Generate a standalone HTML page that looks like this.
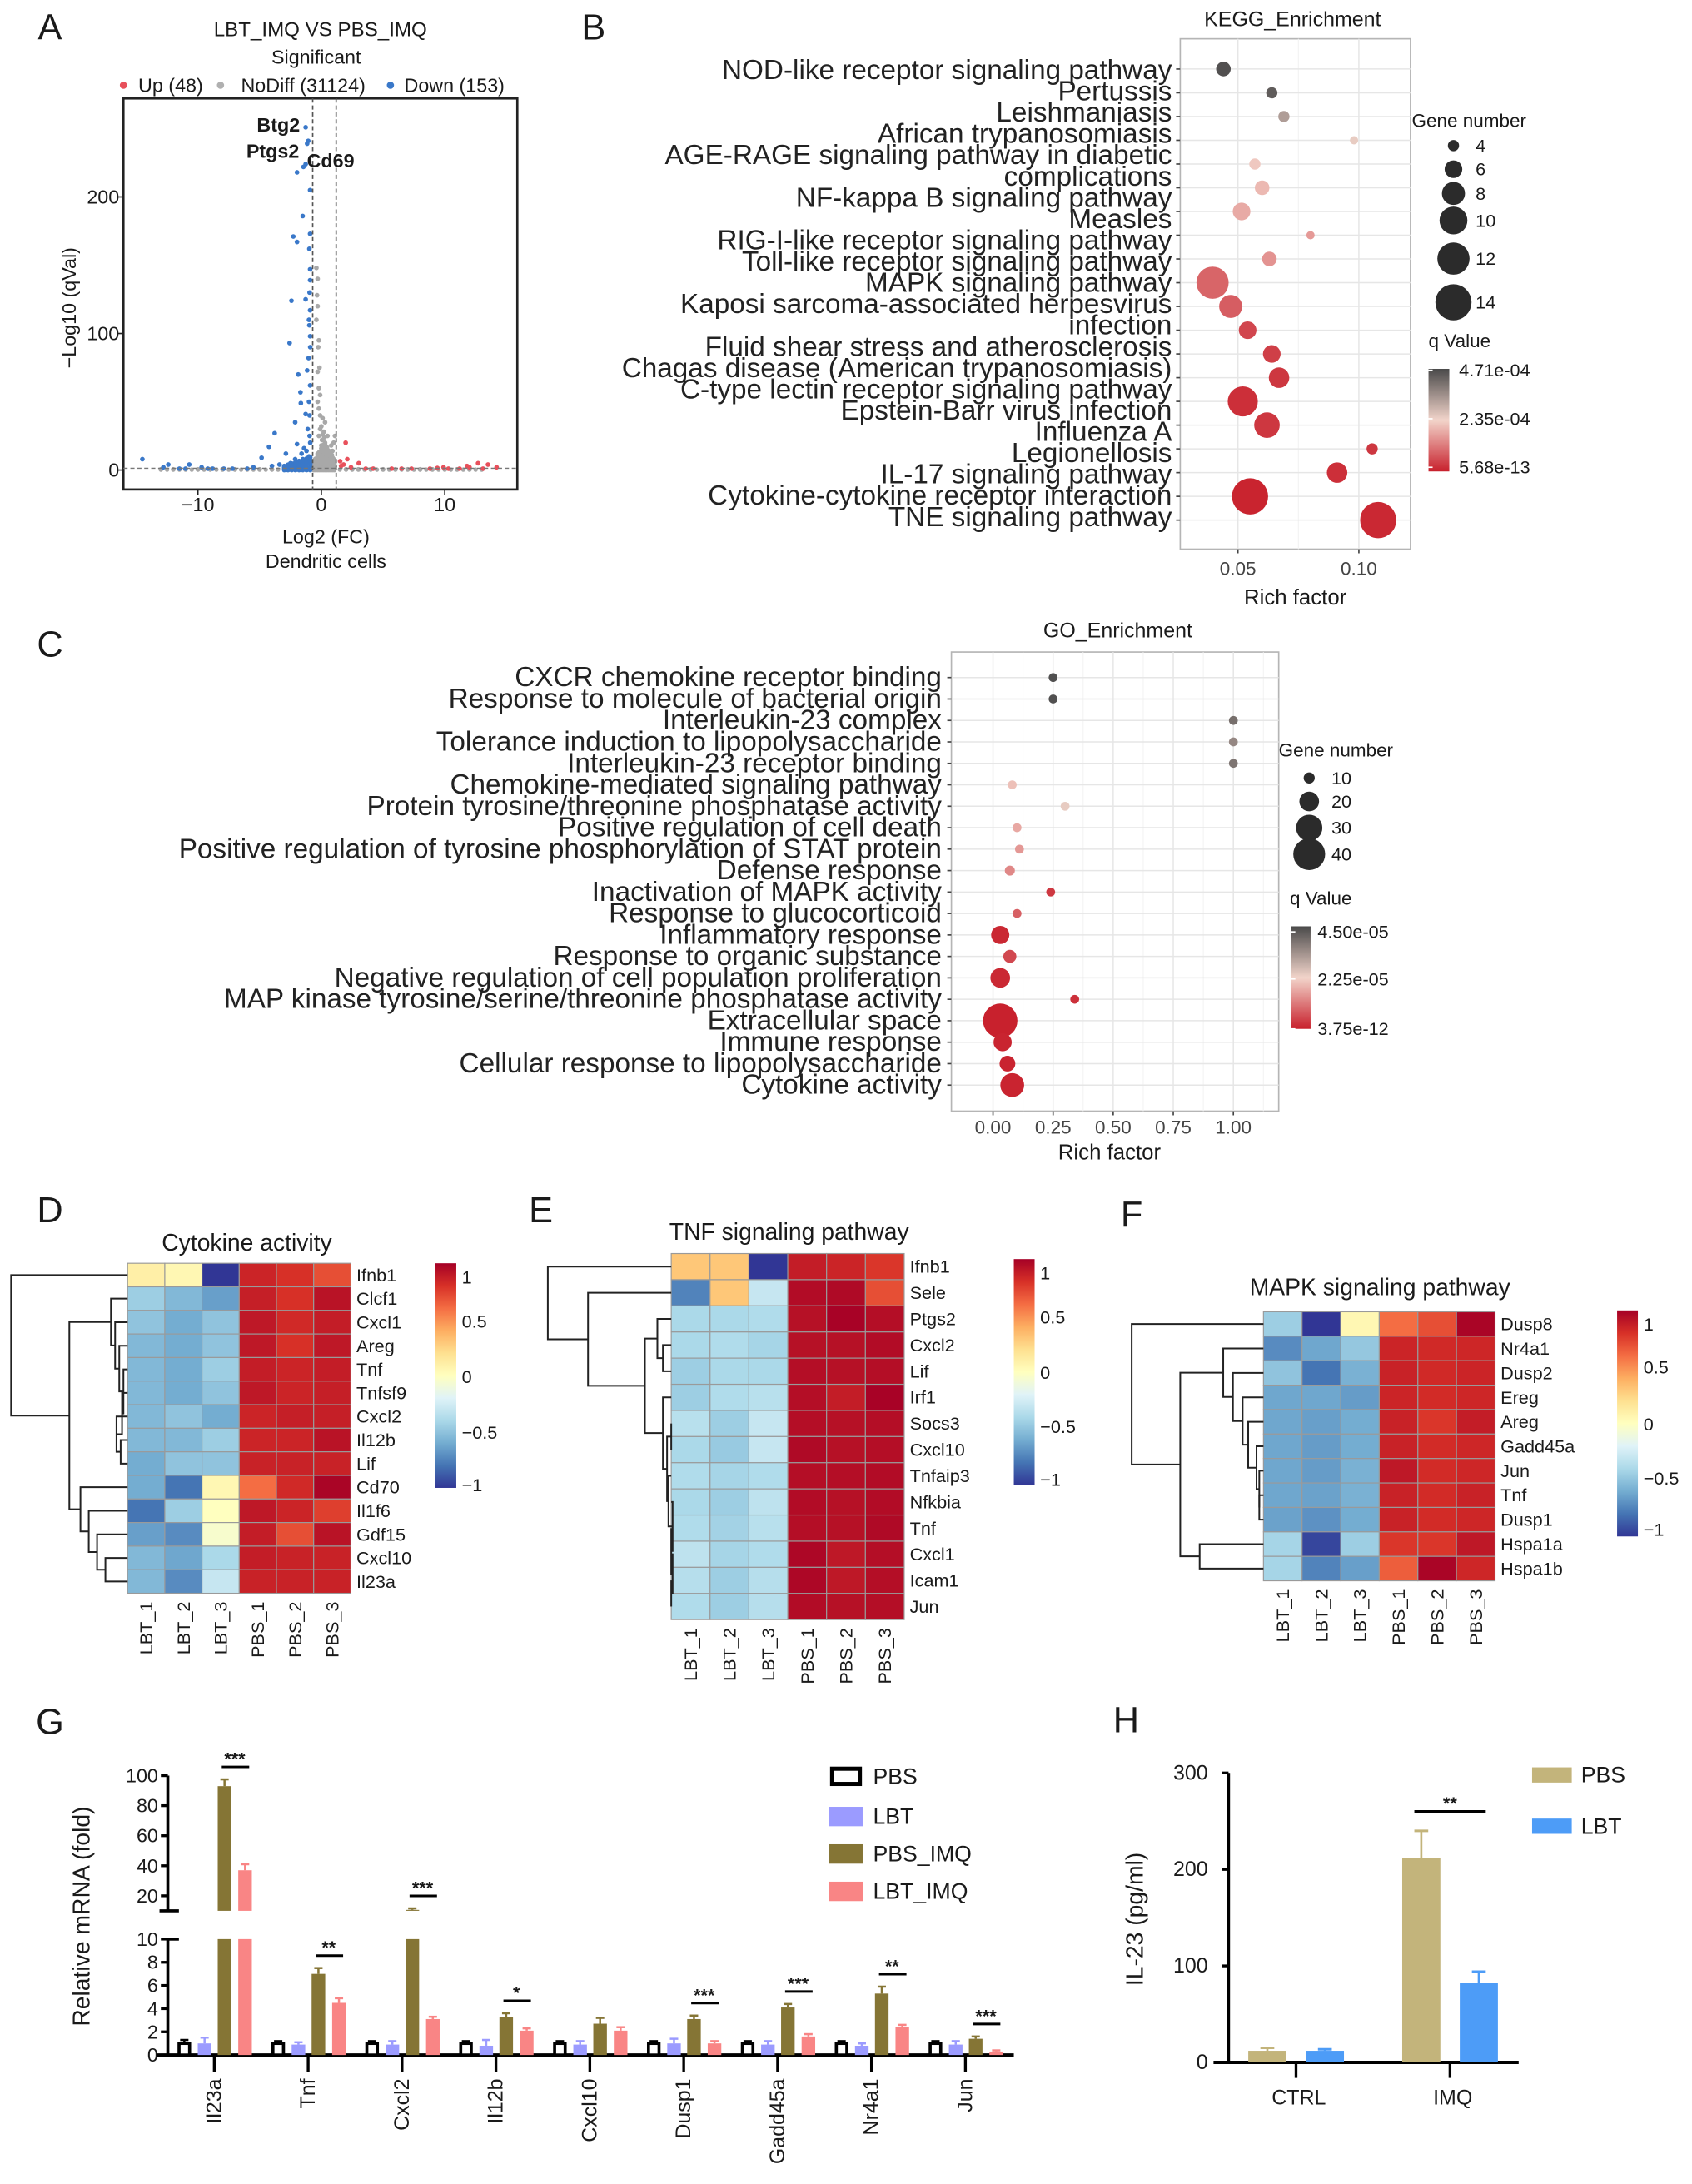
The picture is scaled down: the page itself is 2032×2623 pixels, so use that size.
<!DOCTYPE html>
<html><head><meta charset="utf-8">
<style>
html,body{margin:0;padding:0;background:#fff;}
svg{display:block;font-family:"Liberation Sans",Arial,sans-serif;}
</style></head>
<body>
<svg id="fig" width="2032" height="2623" viewBox="0 0 1220 1575" preserveAspectRatio="none" xmlns="http://www.w3.org/2000/svg">
<defs>
<linearGradient id="qgrad" x1="0" y1="1" x2="0" y2="0"><stop offset="0" stop-color="#c8202c"/><stop offset="0.5" stop-color="#f2d4ca"/><stop offset="1" stop-color="#4a4a4a"/></linearGradient>
<linearGradient id="hmgrad" x1="0" y1="1" x2="0" y2="0">
<stop offset="0" stop-color="#313695"/><stop offset="0.1" stop-color="#4575b4"/><stop offset="0.2" stop-color="#74add1"/><stop offset="0.3" stop-color="#abd9e9"/><stop offset="0.4" stop-color="#e0f3f8"/><stop offset="0.5" stop-color="#ffffbf"/><stop offset="0.6" stop-color="#fee090"/><stop offset="0.7" stop-color="#fdae61"/><stop offset="0.8" stop-color="#f46d43"/><stop offset="0.9" stop-color="#d73027"/><stop offset="1" stop-color="#a50026"/></linearGradient>
</defs>
</svg>
<script>
// ---------- Panel A data (log2FC, -log10 q) ----------
const downX=[-1.27,-1.15,-1.06,-1.27,-1.45,-1.97,-0.91,-1.51,-0.91,-2.27,-1.97,-0.97,-0.91,-0.91,-2.42,-1.27,-0.91,-0.97,-2.57,-0.91,-1.03,-1.15,-1.87,-0.91,-1.69,-1.66,-1.27,-2.12,-3.78,-4.24,-2.87,-1.97,-4.84,-2.12,-3.39,-14.5,-12.4,-10.7,-9.7,-7.9,-11.5,-1.0,-1.2,-0.9,-1.5,-1.8,-2.5,-1.1,-0.95,-1.3,-6,-8.8,-11,-3,-4,-1.6,-0.9,-0.95,-1.0,-5.5,-1.1,-0.95,-1.4,-1.2,-2.0,-1.0,-9.2,-12.8,-7.2];
const downY=[251,239,241,224,222,218,205,186,173,171,167,162,147,139,124,125,117,106,93,98,82,73,70,62,57,49,41,35,27,17,12,19,9,8,4,8,4,4,2,1,1,10,14,20,8,6,5,30,40,3,1,1,1,2,3,12,90,130,110,2,5,25,16,6,3,50,1,2,1];
const upX=[1.97,3.03,1.52,4.2,12.7,13.5,14.2,12,9.4,1.8,2.4,7.3,10.3,11.2,3.6,5.7,8.8,1.6,2.1,11.8,9.9,6.5,13.1];
const upY=[20,5,6.5,1,5,4,2,2,1.5,4,2,1,1,1,1,1,1,3,8,3,2,1,1];
const grayX=[-0.4,-0.3,-0.35,-0.3,-0.4,-0.2,-0.25,-0.15,-0.3,-0.2,-0.1,-0.3,-0.2,-0.1,0.1,0.3,0,0.2,0.5,-0.2,1.1,1.0,0.8,0.3,0.1,0.6,0.9,0.4,0.2,0.7,1.0,-0.3,-0.5,0,0.5,1.1,-0.4,0.05,0.15,0.35,0.25,0.45,0.65,0.85,-0.1,0.0,0.1,0.3,0.55,0.75,0.95,-0.45,-13,-12,-11,-10,-9,-8,-7,-6,-5,-4,-3,-2.5,-2,-1.5,2,2.5,3,4,5,6,7,8,9,10,11,12,13];
const grayY=[148,140,128,120,110,95,90,75,72,60,55,50,45,40,38,35,32,28,25,25,25,20,18,20,15,12,14,10,8,6,8,12,8,5,4,3,3,22,18,14,24,16,9,11,30,18,26,12,7,4,6,2,0.5,0.5,0.5,0.5,0.5,0.5,0.5,0.5,0.5,0.5,0.5,0.5,0.5,0.5,0.5,0.5,0.5,0.5,0.5,0.5,0.5,0.5,0.5,0.5,0.5,0.5,0.5];
const aXTicks=[-10,0,10];
const aYTicks=[0,100,200];

// ---------- Panel B data (KEGG) ----------
const keggTerms=["NOD-like receptor signaling pathway","Pertussis","Leishmaniasis","African trypanosomiasis","AGE-RAGE signaling pathway in diabetic complications","NF-kappa B signaling pathway","Measles","RIG-I-like receptor signaling pathway","Toll-like receptor signaling pathway","MAPK signaling pathway","Kaposi sarcoma-associated herpesvirus infection","Fluid shear stress and atherosclerosis","Chagas disease (American trypanosomiasis)","C-type lectin receptor signaling pathway","Epstein-Barr virus infection","Influenza A","Legionellosis","IL-17 signaling pathway","Cytokine-cytokine receptor interaction","TNE signaling pathway"];
const keggLabelLines=["NOD-like receptor signaling pathway","Pertussis","Leishmaniasis","African trypanosomiasis","AGE-RAGE signaling pathway in diabetic","complications","NF-kappa B signaling pathway","Measles","RIG-I-like receptor signaling pathway","Toll-like receptor signaling pathway","MAPK signaling pathway","Kaposi sarcoma-associated herpesvirus","infection","Fluid shear stress and atherosclerosis","Chagas disease (American trypanosomiasis)","C-type lectin receptor signaling pathway","Epstein-Barr virus infection","Influenza A","Legionellosis","IL-17 signaling pathway","Cytokine-cytokine receptor interaction","TNE signaling pathway"];
const keggRich=[0.044,0.064,0.069,0.098,0.057,0.060,0.0515,0.080,0.063,0.0395,0.047,0.054,0.064,0.067,0.052,0.062,0.1055,0.091,0.055,0.108];
const keggGenes=[5,4,4,3,4,5,6,3,5,12,8,6,6,7,11,9,4,7,14,14];
const keggQ=[4.6e-4,4.4e-4,3.3e-4,2.5e-4,2.2e-4,2.0e-4,1.8e-4,1.6e-4,1.5e-4,0.9e-4,0.8e-4,0.5e-4,0.4e-4,0.3e-4,0.2e-4,0.3e-4,0.3e-4,0.2e-4,0.05e-4,0.1e-4];
const keggXTicks=[0.05,0.10];
const keggSizeLegend=[4,6,8,10,12,14];
const keggQLegend=["4.71e-04","2.35e-04","5.68e-13"];

// ---------- Panel C data (GO) ----------
const goTerms=["CXCR chemokine receptor binding","Response to molecule of bacterial origin","Interleukin-23 complex","Tolerance induction to lipopolysaccharide","Interleukin-23 receptor binding","Chemokine-mediated signaling pathway","Protein tyrosine/threonine phosphatase activity","Positive regulation of cell death","Positive regulation of tyrosine phosphorylation of STAT protein","Defense response","Inactivation of MAPK activity","Response to glucocorticoid","Inflammatory response","Response to organic substance","Negative regulation of cell population proliferation","MAP kinase tyrosine/serine/threonine phosphatase activity","Extracellular space","Immune response","Cellular response to lipopolysaccharide","Cytokine activity"];
const goRich=[0.25,0.25,1.0,1.0,1.0,0.08,0.30,0.10,0.11,0.07,0.24,0.10,0.03,0.07,0.03,0.34,0.03,0.04,0.06,0.08];
const goGenes=[5,5,4,4,4,8,6,8,8,9,6,8,18,12,20,5,45,18,15,26];
const goQ=[4.4e-5,4.4e-5,3.9e-5,3.5e-5,3.8e-5,2.0e-5,2.4e-5,1.7e-5,1.5e-5,1.3e-5,0.3e-5,0.8e-5,0.1e-5,0.5e-5,0.1e-5,0.2e-5,0.01e-5,0.05e-5,0.05e-5,0.05e-5];
const goXTicks=[0,0.25,0.5,0.75,1.0];
const goXTickLabels=["0.00","0.25","0.50","0.75","1.00"];
const goSizeLegend=[10,20,30,40];
const goQLegend=["4.50e-05","2.25e-05","3.75e-12"];

// ---------- Heatmaps ----------
const hmCols=["LBT_1","LBT_2","LBT_3","PBS_1","PBS_2","PBS_3"];
const dGenes=["Ifnb1","Clcf1","Cxcl1","Areg","Tnf","Tnfsf9","Cxcl2","Il12b","Lif","Cd70","Il1f6","Gdf15","Cxcl10","Il23a"];
const dVals=[[0.1,0.05,-1,0.85,0.8,0.7],[-0.45,-0.55,-0.65,0.87,0.8,0.92],[-0.5,-0.6,-0.5,0.9,0.83,0.88],[-0.55,-0.6,-0.5,0.9,0.8,0.9],[-0.55,-0.6,-0.45,0.88,0.85,0.88],[-0.55,-0.6,-0.5,0.9,0.85,0.87],[-0.55,-0.5,-0.6,0.85,0.87,0.87],[-0.55,-0.55,-0.45,0.85,0.85,0.92],[-0.6,-0.5,-0.5,0.86,0.86,0.86],[-0.6,-0.8,0.05,0.6,0.83,0.98],[-0.8,-0.45,0.0,0.9,0.85,0.75],[-0.65,-0.72,-0.05,0.88,0.7,0.92],[-0.55,-0.62,-0.4,0.88,0.86,0.86],[-0.55,-0.72,-0.3,0.86,0.86,0.86]];
const eGenes=["Ifnb1","Sele","Ptgs2","Cxcl2","Lif","Irf1","Socs3","Cxcl10","Tnfaip3","Nfkbia","Tnf","Cxcl1","Icam1","Jun"];
const eVals=[[0.3,0.3,-1,0.88,0.85,0.78],[-0.75,0.3,-0.3,0.95,0.96,0.7],[-0.4,-0.4,-0.38,0.93,0.99,0.94],[-0.4,-0.38,-0.42,0.93,0.93,0.95],[-0.45,-0.4,-0.4,0.94,0.93,0.94],[-0.45,-0.38,-0.35,0.94,0.88,0.99],[-0.35,-0.45,-0.3,0.94,0.93,0.94],[-0.4,-0.47,-0.3,0.96,0.93,0.94],[-0.38,-0.42,-0.38,0.94,0.94,0.95],[-0.4,-0.45,-0.33,0.95,0.93,0.95],[-0.38,-0.43,-0.35,0.94,0.93,0.96],[-0.33,-0.42,-0.38,0.97,0.9,0.94],[-0.36,-0.45,-0.36,0.97,0.9,0.94],[-0.38,-0.45,-0.36,0.95,0.93,0.94]];
const fGenes=["Dusp8","Nr4a1","Dusp2","Ereg","Areg","Gadd45a","Jun","Tnf","Dusp1","Hspa1a","Hspa1b"];
const fVals=[[-0.45,-1,0.05,0.6,0.7,0.98],[-0.72,-0.62,-0.48,0.85,0.83,0.84],[-0.5,-0.8,-0.58,0.86,0.83,0.85],[-0.62,-0.62,-0.66,0.85,0.82,0.84],[-0.62,-0.65,-0.6,0.86,0.78,0.88],[-0.62,-0.66,-0.6,0.86,0.82,0.84],[-0.62,-0.66,-0.58,0.9,0.82,0.84],[-0.62,-0.64,-0.58,0.86,0.82,0.86],[-0.64,-0.7,-0.6,0.86,0.82,0.84],[-0.42,-0.95,-0.45,0.78,0.78,0.9],[-0.42,-0.75,-0.65,0.65,0.98,0.84]];

// ---------- Panel G data ----------
const gGenes=["Il23a","Tnf","Cxcl2","Il12b","Cxcl10","Dusp1","Gadd45a","Nr4a1","Jun"];
const gSeries=["PBS","LBT","PBS_IMQ","LBT_IMQ"];
const gPBS=[1,1,1,1,1,1,1,1,1];
const gLBT=[1,0.9,0.9,0.8,0.9,1.0,0.9,0.8,0.9];
const gPBSIMQ=[93,7,10.6,3.3,2.7,3.1,4.1,5.3,1.4];
const gLBTIMQ=[37,4.5,3.1,2.1,2.1,1.0,1.6,2.4,0.3];
const gErrPBS=[0.3,0.2,0.2,0.2,0.2,0.2,0.2,0.2,0.2];
const gErrLBT=[0.5,0.2,0.3,0.5,0.3,0.4,0.3,0.2,0.3];
const gErrPBSIMQ=[4.5,0.5,1.0,0.3,0.5,0.3,0.3,0.6,0.2];
const gErrLBTIMQ=[4,0.4,0.2,0.2,0.3,0.2,0.2,0.2,0.1];
const gSig=["***","**","***","*","","***","***","**","***"];
const gLowTicks=[0,2,4,6,8,10];
const gUpTicks=[20,40,60,80,100];

// ---------- Panel H data ----------
const hGroups=["CTRL","IMQ"];
const hPBS=[12,212];
const hLBT=[12,82];
const hErrPBS=[3,28];
const hErrLBT=[1.5,12];
const hSig=["","**"];
const hTicks=[0,100,200,300];

// ================= helpers =================
const NS="http://www.w3.org/2000/svg";
const svg=document.getElementById('fig');
function mk(tag,a,p){const e=document.createElementNS(NS,tag);for(const k in a)e.setAttribute(k,a[k]);(p||svg).appendChild(e);return e;}
function tx(s,x,y,size,anchor,p,extra){const e=mk('text',Object.assign({x:x,y:y,'font-size':size,'text-anchor':anchor||'start','dominant-baseline':'central',fill:'#1a1a1a'},extra||{}),p);e.textContent=s;return e;}
function grp(name,p){const g=mk('g',{},p);return g;}
function hex2rgb(h){return [parseInt(h.substr(1,2),16),parseInt(h.substr(3,2),16),parseInt(h.substr(5,2),16)];}
function interp(stops,t){t=Math.max(0,Math.min(1,t));for(let i=0;i<stops.length-1;i++){const a=stops[i],b=stops[i+1];if(t<=b[0]){const u=(t-a[0])/(b[0]-a[0]);const c1=hex2rgb(a[1]),c2=hex2rgb(b[1]);return 'rgb('+c1.map((c,j)=>Math.round(c+(c2[j]-c)*u)).join(',')+')';}}return stops[stops.length-1][1];}
const qStops=[[0,'#c8202c'],[0.5,'#f2d4ca'],[1,'#4a4a4a']];
const hmStops=[[0,'#313695'],[0.1,'#4575b4'],[0.2,'#74add1'],[0.3,'#abd9e9'],[0.4,'#e0f3f8'],[0.5,'#ffffbf'],[0.6,'#fee090'],[0.7,'#fdae61'],[0.8,'#f46d43'],[0.9,'#d73027'],[1,'#a50026']];
function panelLetter(s,x,y){const t=tx(s,x,y,26,'middle');}

// ================= Panel A =================
(function(){
const g=grp('volcano-plot');
panelLetter('A',36,20);
const X0=89,X1=373,Y0=71,Y1=353;
const xs=v=>231.7+v*8.9, ys=v=>339-v*0.985;
let t=tx('LBT_IMQ VS PBS_IMQ',231,21.5,14.5,'middle',g);
t=tx('Significant',228,41,14,'middle',g);
const leg=[['#e8505b','Up (48)',89,99.7],['#b0b0b0','NoDiff (31124)',159,173.8],['#3a78c9','Down (153)',281.5,291.5]];
leg.forEach(l=>{const c=mk('circle',{cx:l[2],cy:61.5,r:2.6,fill:l[0]},g);
const tt=tx(l[1],l[3],61.5,14,'start',g);});
const fr=mk('rect',{x:X0,y:Y0,width:X1-X0,height:Y1-Y0,fill:'#fff',stroke:'#222','stroke-width':1.6},g);
const pts=grp('points',g);
for(let i=0;i<grayX.length;i++){const c=mk('circle',{cx:xs(grayX[i]),cy:ys(grayY[i]),r:1.7,fill:'#a8a8a8'},pts);}
for(let v=-13;v<=13.01;v+=0.5){const c=mk('circle',{cx:xs(v),cy:ys(0.3),r:1.6,fill:'#a8a8a8'},pts);}
for(let v=-0.6;v<=1.1;v+=0.15){for(let w=0;w<=20;w+=2.5){const c=mk('circle',{cx:xs(v),cy:ys(w*(1-Math.abs(v-0.25)/1.2)),r:1.7,fill:'#a8a8a8'},pts);}}
for(let i=0;i<downX.length;i++){const c=mk('circle',{cx:xs(downX[i]),cy:ys(downY[i]),r:1.7,fill:'#3a78c9'},pts);}
for(let v=-3;v<=-0.8;v+=0.3){for(let w=0;w<=12;w+=3){const c=mk('circle',{cx:xs(v),cy:ys(w*(1+v/4)),r:1.7,fill:'#3a78c9'},pts);}}
for(let i=0;i<upX.length;i++){const c=mk('circle',{cx:xs(upX[i]),cy:ys(upY[i]),r:1.7,fill:'#e8505b'},pts);}
[-0.7,1.2].forEach(v=>{const l=mk('line',{x1:xs(v),x2:xs(v),y1:Y0,y2:Y1,stroke:'#555','stroke-width':1,'stroke-dasharray':'3,2'},g);});
let hl=mk('line',{x1:X0,x2:X1,y1:ys(1.3),y2:ys(1.3),stroke:'#777','stroke-width':0.8,'stroke-dasharray':'3,2'},g);
[['Btg2',200.7,90],['Ptgs2',196.7,109],['Cd69',238.4,116]].forEach(a=>{const tt=tx(a[0],a[1],a[2],14,'middle',g,{'font-weight':'bold'});});
aXTicks.forEach(v=>{mk('line',{x1:xs(v),x2:xs(v),y1:Y1,y2:Y1+4,stroke:'#222'},g);const tt=tx(v<0?'\u2212'+(-v):String(v),xs(v),364,14,'middle',g);});
aYTicks.forEach(v=>{mk('line',{x1:X0-4,x2:X0,y1:ys(v),y2:ys(v),stroke:'#222'},g);const tt=tx(String(v),86,ys(v),14,'end',g);});
t=tx('Log2 (FC)',235,387,14,'middle',g);
t=tx('Dendritic cells',235,404.6,14,'middle',g);
t=tx('\u2212Log10 (qVal)',49.8,222,14,'middle',g,{transform:'rotate(-90 49.8 222)'});
})();

// ================= Bubble plot helper =================
function bubble(cfg){
const g=grp(cfg.name);
const {X0,X1,Y0,Y1}=cfg;
const fr=mk('rect',{x:X0,y:Y0,width:X1-X0,height:Y1-Y0,fill:'#fff',stroke:'#b5b5b5','stroke-width':1},g);
cfg.minor.forEach(v=>{const x=cfg.xs(v);if(x>X0&&x<X1)mk('line',{x1:x,x2:x,y1:Y0,y2:Y1,stroke:'#f2f2f2','stroke-width':0.6},g);});
cfg.xticks.forEach(v=>{mk('line',{x1:cfg.xs(v),x2:cfg.xs(v),y1:Y0,y2:Y1,stroke:'#e6e6e6','stroke-width':0.9},g);});
cfg.terms.forEach((tm,i)=>{const y=cfg.ys(i);const l=mk('line',{x1:X0,x2:X1,y1:y,y2:y,stroke:'#e6e6e6','stroke-width':0.9},g);mk('line',{x1:X0-3,x2:X0,y1:y,y2:y,stroke:'#444'},g);});
cfg.terms.forEach((tm,i)=>{const c=mk('circle',{cx:cfg.xs(cfg.rich[i]),cy:cfg.ys(i),r:cfg.rs(cfg.genes[i]),fill:interp(qStops,cfg.q[i]/cfg.qmax)},g);});
cfg.labelLines.forEach((s,i)=>{const t=tx(s,cfg.labelX,cfg.labelY(i),cfg.fs,'end',g,{fill:'#222'});});
cfg.xticks.forEach((v,i)=>{mk('line',{x1:cfg.xs(v),x2:cfg.xs(v),y1:Y1,y2:Y1+3,stroke:'#444'},g);const t=tx(cfg.xtl[i],cfg.xs(v),cfg.tickY,13.5,'middle',g,{fill:'#444'});});
let t=tx('Rich factor',cfg.xtitleX,cfg.xtitleY,15.5,'middle',g);
t=tx(cfg.title,cfg.titleX,cfg.titleY,15,'middle',g);
const L=cfg.leg;
t=tx('Gene number',L.gx,L.gy,13.5,'start',g);
cfg.sizeLegend.forEach((n,i)=>{const c=mk('circle',{cx:L.cx,cy:L.cy[i],r:cfg.rs(n),fill:'#2b2b2b'},g);const tt=tx(String(n),L.lx,L.cy[i],13,'start',g);});
t=tx('q Value',L.qx,L.qy,13.5,'start',g);
const cb=mk('rect',{x:L.bx,y:L.by0,width:L.bw,height:L.by1-L.by0,fill:'url(#qgrad)'},g);
cfg.qLegend.forEach((s,i)=>{mk('line',{x1:L.bx,x2:L.bx+3,y1:L.ly[i],y2:L.ly[i],stroke:'#fff'},g);const tt=tx(s,L.tlx,L.ly[i],13,'start',g);});
}

// Panel B
panelLetter('B',428,20);
bubble({name:'kegg-enrichment-plot',X0:851,X1:1017,Y0:28,Y1:396,
xs:v=>892.6+(v-0.05)*1744, ys:i=>49.8+i*17.12,
minor:[0.025,0.075,0.125], xticks:keggXTicks, xtl:["0.05","0.10"],
terms:keggTerms, rich:keggRich, genes:keggGenes, q:keggQ, qmax:4.71e-4,
rs:n=>Math.max(3,5.17*Math.sqrt(n)-6.3),
labelLines:keggLabelLines, labelX:845, labelY:i=>50.7+i*15.35, fs:20,
tickY:410, xtitleX:934, xtitleY:431, title:'KEGG_Enrichment', titleX:932, titleY:14,
sizeLegend:keggSizeLegend, qLegend:keggQLegend,
leg:{gx:1018,gy:87,cx:1048,cy:[105,122,139.5,159,186.5,218],lx:1064,qx:1030,qy:246,bx:1030,by0:266,by1:340,bw:15,tlx:1052,ly:[267,302,337]}});

// Panel C
panelLetter('C',36,465);
bubble({name:'go-enrichment-plot',X0:686,X1:922,Y0:470.2,Y1:801.3,
xs:v=>716+v*173.3, ys:i=>488.6+i*15.47,
minor:[-0.125,0.125,0.375,0.625,0.875,1.125], xticks:goXTicks, xtl:goXTickLabels,
terms:goTerms, rich:goRich, genes:goGenes, q:goQ, qmax:4.5e-5,
rs:n=>Math.max(3.2,2.37*Math.sqrt(n)-3.5),
labelLines:goTerms, labelX:679, labelY:i=>488.6+i*15.47, fs:20,
tickY:813, xtitleX:800, xtitleY:831.4, title:'GO_Enrichment', titleX:806, titleY:455,
sizeLegend:goSizeLegend, qLegend:goQLegend,
leg:{gx:922,gy:541,cx:944,cy:[561,578,597,616],lx:960,qx:930,qy:648,bx:931,by0:668,by1:742,bw:14,tlx:950,ly:[672,706,742]}});

// ================= Heatmaps =================
function heatmap(cfg){
const g=grp(cfg.name);
const n=cfg.genes.length, cw=(cfg.x1-cfg.x0)/6, rh=(cfg.y1-cfg.y0)/n;
const rowY=i=>cfg.y0+(i+0.5)*rh;
let t=tx(cfg.title,cfg.titleX,cfg.titleY,17,'middle',g);
cfg.vals.forEach((row,i)=>row.forEach((v,j)=>{const r=mk('rect',{x:cfg.x0+j*cw,y:cfg.y0+i*rh,width:cw,height:rh,fill:interp(hmStops,(v+1)/2),stroke:'#9a9a9a','stroke-width':0.7},g);}));
cfg.genes.forEach((s,i)=>{const tt=tx(s,cfg.x1+4,rowY(i),13,'start',g);});
hmCols.forEach((s,j)=>{const cx=cfg.x0+(j+0.5)*cw;const tt=tx(s,cx,cfg.colY,13,'end',g,{transform:'rotate(-90 '+cx+' '+cfg.colY+')'});});
const cb=mk('rect',{x:cfg.cbx,y:cfg.cby0,width:15,height:cfg.cby1-cfg.cby0,fill:'url(#hmgrad)'},g);
['1','0.5','0','\u22120.5','\u22121'].forEach((s,i)=>{const tt=tx(s,cfg.cbx+19,cfg.cbl[i],13,'start',g);});
const dg=grp('row-dendrogram',g);
function draw(node){if(typeof node==='number')return {x:cfg.x0,y:rowY(node)};
const a=draw(node[1]),b=draw(node[2]),x=node[0];
mk('path',{d:'M'+a.x+','+a.y+'H'+x+'V'+b.y+'H'+b.x,fill:'none',stroke:'#222','stroke-width':1.2},dg);
return {x:x,y:(a.y+b.y)/2};}
draw(cfg.tree);
}
panelLetter('D',36,873);
heatmap({name:'cytokine-activity-heatmap',genes:dGenes,vals:dVals,x0:92,x1:253,y0:911,y1:1149,title:'Cytokine activity',titleX:178,titleY:896,colY:1155,cbx:314,cby0:911,cby1:1073,cbl:[921,953,993,1033,1071],
tree:[8,0,[50,[80,1,[83,2,[86,3,[89,4,[88,5,[84,6,[87,7,8]]]]]]],[58,9,[64,10,[70,11,[76,12,13]]]]]]});
panelLetter('E',390,873);
heatmap({name:'tnf-pathway-heatmap',genes:eGenes,vals:eVals,x0:484,x1:652,y0:904,y1:1168,title:'TNF signaling pathway',titleX:569,titleY:888,colY:1174,cbx:731,cby0:908,cby1:1071,cbl:[918,950,990,1029,1067],
tree:[395,0,[424,1,[465,[474,2,[478,3,4]],[478,5,[481,[484,6,7],[482,8,[485,9,[484,10,[485,11,[484,12,13]]]]]]]]]]});
panelLetter('F',816,876);
heatmap({name:'mapk-pathway-heatmap',genes:fGenes,vals:fVals,x0:911,x1:1078,y0:946,y1:1140,title:'MAPK signaling pathway',titleX:995,titleY:928,colY:1146,cbx:1166,cby0:945,cby1:1108,cbl:[955,986,1027,1066,1103],
tree:[816,0,[851,[882,1,[889,2,[896,3,[900,4,[906,5,[908,6,[908,7,8]]]]]]],[865,9,10]]]});

// ================= Panel G =================
(function(){
const g=grp('relative-mrna-bar-chart');
panelLetter('G',36,1242);
const AX=121, Y0=1482, L10=1398.4, U10=1378, U100=1280.5;
const yLow=v=>Y0-Math.min(v,10)*(Y0-L10)/10;
const yUp=v=>U10-(v-10)*(U10-U100)/90;
const gc=i=>154.5+i*67.7;
const offs=[-21.6,-7,7.4,22.2], bw=9.8;
const colors=['#000','#9b9bff','#857535','#f98585'];
const vals=[gPBS,gLBT,gPBSIMQ,gLBTIMQ], errs=[gErrPBS,gErrLBT,gErrPBSIMQ,gErrLBTIMQ];
mk('path',{d:'M'+AX+','+U100+'V'+U10,stroke:'#000','stroke-width':2.2,fill:'none'},g);
mk('path',{d:'M'+AX+','+L10+'V'+Y0,stroke:'#000','stroke-width':2.2,fill:'none'},g);
mk('line',{x1:AX-6,x2:AX+8,y1:U10,y2:U10,stroke:'#000','stroke-width':2.2},g);
mk('line',{x1:AX-1,x2:AX+8,y1:L10,y2:L10,stroke:'#000','stroke-width':2.2},g);
const xa=mk('line',{x1:113,x2:731,y1:Y0,y2:Y0,stroke:'#000','stroke-width':2.4},g);
gLowTicks.forEach(v=>{mk('line',{x1:AX-5,x2:AX,y1:yLow(v),y2:yLow(v),stroke:'#000','stroke-width':2},g);const t=tx(String(v),AX-7,yLow(v),14,'end',g);});
gUpTicks.forEach(v=>{mk('line',{x1:AX-5,x2:AX,y1:yUp(v),y2:yUp(v),stroke:'#000','stroke-width':2},g);const t=tx(String(v),AX-7,yUp(v),14,'end',g);});
let t=tx('Relative mRNA (fold)',58.6,1382,17,'middle',g,{transform:'rotate(-90 58.6 1382)'});
gGenes.forEach((gn,i)=>{
 const c=gc(i);
 mk('line',{x1:c,x2:c,y1:Y0,y2:Y0+12,stroke:'#000','stroke-width':2},g);
 const tl=tx(gn,c,1499,15,'end',g,{transform:'rotate(-90 '+c+' 1499)'});
 let topY=0;
 vals.forEach((arr,s)=>{
  const v=arr[i], e=errs[s][i], x=c+offs[s]-bw/2;
  const isPBS=s===0;
  const attrs={fill:isPBS?'#fff':colors[s],stroke:isPBS?'#000':'none','stroke-width':isPBS?2.2:0};
  const r=mk('rect',Object.assign({x:isPBS?x+1.1:x,y:yLow(v),width:isPBS?bw-2.2:bw,height:Y0-yLow(v)},attrs),g);
  
  
  let ytop=yLow(v);
  if(v>10){const r2=mk('rect',{x:x,y:yUp(v),width:bw,height:U10-yUp(v),fill:colors[s]},g);ytop=yUp(v);}
  const ye=v+e>10?(v>10?yUp(v+e):yLow(v+e)):yLow(v+e);
  mk('line',{x1:c+offs[s],x2:c+offs[s],y1:ytop,y2:ye,stroke:colors[s],'stroke-width':1.5},g);
  mk('line',{x1:c+offs[s]-3,x2:c+offs[s]+3,y1:ye,y2:ye,stroke:colors[s],'stroke-width':1.5},g);
  if(s>=2)topY=Math.min(topY||9999,ye);
 });
 if(gSig[i]){const ly=topY-9;const sl=mk('line',{x1:c+offs[2]-2,x2:c+offs[3]+3,y1:ly,y2:ly,stroke:'#000','stroke-width':1.8},g);
  const st=tx(gSig[i],(c+offs[2]+c+offs[3])/2,ly-6,13,'middle',g,{'font-weight':'bold'});}
});
const ly=[1281,1310,1337,1364];
gSeries.forEach((s,i)=>{const isPBS=i===0;const r=mk('rect',{x:isPBS?600:598,y:ly[i]-(isPBS?5.5:7),width:isPBS?20:24,height:isPBS?11:14,fill:isPBS?'#fff':colors[i],stroke:isPBS?'#000':'none','stroke-width':isPBS?3:0},g);
const tt=tx(s,629.5,ly[i],16,'start',g);});
})();

// ================= Panel H =================
(function(){
const g=grp('il23-elisa-bar-chart');
panelLetter('H',812,1241);
const AX=885.8, Y0=1487.3, ys=v=>Y0-v*0.6958;
const gcx=[934.5,1045.5], off=[-20.7,20.8], bw=27.5;
const cols=['#c3b47b','#4d9cf7'];
mk('line',{x1:AX,x2:AX,y1:ys(300),y2:Y0,stroke:'#000','stroke-width':2.2},g);
const xa=mk('line',{x1:875,x2:1095,y1:Y0,y2:Y0,stroke:'#000','stroke-width':2.4},g);
hTicks.forEach(v=>{mk('line',{x1:AX-5,x2:AX,y1:ys(v),y2:ys(v),stroke:'#000','stroke-width':2},g);const t=tx(String(v),871,ys(v),15,'end',g);});
let t=tx('IL-23 (pg/ml)',818,1384,17,'middle',g,{transform:'rotate(-90 818 1384)'});
hGroups.forEach((gn,i)=>{
 const c=gcx[i];
 mk('line',{x1:c,x2:c,y1:Y0,y2:1498.5,stroke:'#000','stroke-width':2},g);
 const tl=tx(gn,c+2,1513,15,'middle',g);
 [[hPBS,hErrPBS,'pbs'],[hLBT,hErrLBT,'lbt']].forEach((sr,s)=>{
  const v=sr[0][i], e=sr[1][i], x=c+off[s];
  const r=mk('rect',{x:x-bw/2,y:ys(v),width:bw,height:Y0-ys(v),fill:cols[s]},g);
  
  
  mk('line',{x1:x,x2:x,y1:ys(v),y2:ys(v+e),stroke:cols[s],'stroke-width':1.6},g);
  mk('line',{x1:x-5,x2:x+5,y1:ys(v+e),y2:ys(v+e),stroke:cols[s],'stroke-width':1.8},g);
 });
 if(hSig[i]){const top=ys(hPBS[i]+hErrPBS[i])-14;const sl=mk('line',{x1:c+off[0]-5,x2:c+off[1]+5,y1:top,y2:top,stroke:'#000','stroke-width':1.8},g);
  const st=tx(hSig[i],c,top-6,13,'middle',g,{'font-weight':'bold'});}
});
[['PBS',1280,cols[0]],['LBT',1317,cols[1]]].forEach(l=>{const r=mk('rect',{x:1104.7,y:l[1]-5.5,width:28.6,height:11,fill:l[2]},g);
const tt=tx(l[0],1140,l[1],16,'start',g);});
})();
</script>
</body></html>
